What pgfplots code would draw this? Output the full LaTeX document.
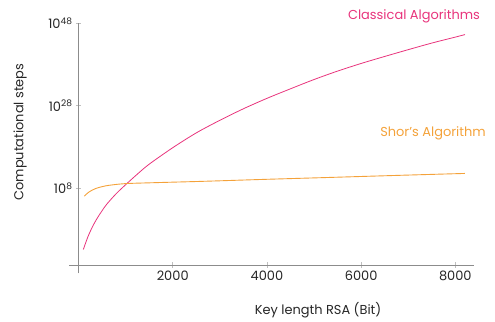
\documentclass[border=0pt]{standalone}
\usepackage{fontspec}
\setmainfont{Poppins}
\usepackage{pgfplots}
\pgfplotsset{compat=1.18}
\definecolor{cpink}{HTML}{E8347C}
\definecolor{corange}{HTML}{F4A23A}
\definecolor{axgray}{HTML}{8C8C8C}
\pgfplotstableread{
x y
102 -6.9
200 -3.8
300 -1.3
400 0.75
500 2.5
600 4.1
800 6.65
1000 8.82
1250 11.4
1500 13.8
2000 17.8
2500 21.4
3000 24.45
3500 27.25
4000 29.78
4500 32.1
5000 34.35
5500 36.4
6000 38.25
6500 39.95
7000 41.6
7500 43.2
8000 44.65
8205 45.26
}\classical
\pgfplotstableread{
x y
123 6.06
229 7.10
372 7.93
584 8.56
866 8.97
1093 9.14
1500 9.28
2000 9.44
2509 9.6
3000 9.77
3923 10.11
5339 10.59
6755 11.08
8205 11.56
}\shor
\begin{document}
\begin{tikzpicture}
\path[use as bounding box] (-69.1bp,-48.7bp) rectangle (425.9bp,273.3bp);
\begin{axis}[
 at={(0,0)}, anchor=south west,
 scale only axis, width=405.06bp, height=250bp,
 xmin=-200, xmax=8400, ymin=-12.68, ymax=48,
 axis x line=bottom, axis y line=left,
 axis x line shift=-8.3bp, axis y line shift=-9.4bp,
 axis line style={axgray, line width=0.8bp, -},
 xtick={2000,4000,6000,8000},
 ytick={8,28,48}, yticklabels={10\textsuperscript{8},10\textsuperscript{28},10\textsuperscript{48}},
 major tick length=5bp,
 tick style={black!25, line width=0.6bp},
 ticklabel style={font=\fontsize{13}{15}\selectfont, text=black!85},
 /pgf/number format/assume math mode=true,
 /pgf/number format/1000 sep={},
 clip=false,
 xlabel={Key length RSA (Bit)},
 ylabel={Computational steps},
 xlabel style={at={(axis description cs:0.6146,-0.1468)}, anchor=center, font=\fontsize{13}{15}\selectfont, text=black!85},
 ylabel style={at={(axis description cs:-0.1212,0.565)}, anchor=center, rotate=0, font=\fontsize{13}{15}\selectfont, text=black!85},
]
\addplot[cpink, line width=0.8bp, smooth] table[x=x,y=y]{\classical};
\addplot[corange, line width=0.9bp, smooth] table[x=x,y=y]{\shor};
\node[text=cpink, font=\fontsize{13}{15}\selectfont] at (axis cs:7123,49.6) {Classical Algorithms};
\node[text=corange, font=\fontsize{13}{15}\selectfont] at (axis cs:7526,21.3) {Shor's Algorithm};
\end{axis}
\end{tikzpicture}
\end{document}
